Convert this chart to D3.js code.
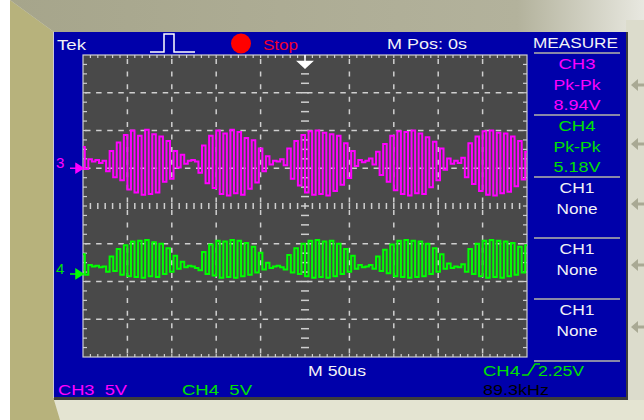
<!DOCTYPE html>
<html><head><meta charset="utf-8">
<script src="https://cdn.jsdelivr.net/npm/d3@7"></script>
<style>
body{margin:0;background:#fff;}
svg{display:block}
text{font-family:"Liberation Sans",Arial,sans-serif;white-space:pre;}
</style>
</head><body>
<svg id="c" width="644" height="420"></svg>
<script>
// ---- data ----
const timeStartUs = -250;          // left edge of screen (M Pos 0s, 50us/div)
const sampleStepUs = 4;            // one displayed sample every 4 us
const ch3Volts = [2.8,-0.1,1.2,0.9,1.1,0.7,1.0,-0.4,
  2.3,-1.2,3.4,-1.6,4.4,-2.8,5.0,-3.2,4.3,-3.5,5.1,-3.4,4.5,-3.2,4.2,-1.8,3.6,-1.4,2.3,0.1,
  1.8,0.6,1.0,1.1,0.9,
  -0.6,3.0,-2.0,4.3,-2.6,5.0,-3.4,4.6,-3.6,5.1,-3.3,4.8,-3.5,4.0,-2.7,3.7,-1.9,2.6,-0.4,
  1.6,0.5,1.0,0.9,1.2,0.4,
  2.6,-1.4,3.6,-2.3,4.4,-3.2,4.9,-3.5,5.0,-3.4,4.7,-3.6,4.5,-3.0,4.3,-2.2,3.3,-1.3,2.3,
  0.3,1.1,0.8,1.0,1.3,0.5,
  2.2,-0.9,3.2,-1.8,4.3,-2.9,4.9,-3.4,4.8,-3.6,5.0,-3.3,4.6,-3.4,4.1,-2.5,3.5,-1.6,2.6,-0.2,
  1.3,0.6,1.0,0.7,1.4,
  -1.2,3.3,-2.1,4.2,-3.0,4.9,-3.5,5.0,-3.6,4.7,-3.3,4.6,-3.1,4.2,-2.4,3.6,-1.5,2.2];
const ch4Volts = [2.6,-0.1,1.2,1.0,1.1,0.9,1.0,0.3,
  2.3,0.4,3.3,-0.1,3.8,-0.3,4.3,-0.4,4.4,-0.5,4.5,-0.3,4.2,-0.4,4.0,0.0,3.4,0.3,2.4,0.7,
  1.6,0.9,1.1,1.0,0.8,
  0.5,2.9,0.0,3.9,-0.2,4.4,-0.5,4.3,-0.4,4.5,-0.5,4.4,-0.3,4.1,-0.1,3.6,0.2,2.8,0.6,
  1.5,0.8,1.0,1.1,0.9,0.6,
  2.5,0.2,3.4,0.0,4.0,-0.3,4.4,-0.5,4.5,-0.4,4.3,-0.5,4.4,-0.3,4.0,0.0,3.3,0.3,2.4,
  0.7,1.2,0.9,1.0,1.2,0.7,
  2.3,0.4,3.2,0.1,3.9,-0.3,4.4,-0.4,4.5,-0.5,4.4,-0.4,4.3,-0.3,4.0,0.0,3.4,0.3,2.6,0.7,
  1.4,0.8,1.0,0.9,1.3,
  0.3,3.3,0.0,4.0,-0.3,4.4,-0.5,4.5,-0.4,4.4,-0.5,4.3,-0.3,4.1,-0.1,3.6,0.2,3.8];
const channelNames = ["3","4"];
const channelVoltsPerDiv = [5,5];
const channelPositionDiv = [1.0,-1.8];
const timeDivTicksUs = [-250,-200,-150,-100,-50,0,50,100,150,200,250];
const vertDivTicks = [-4,-3,-2,-1,0,1,2,3,4];
const measureGroups = [["CH3","Pk-Pk","8.94V"],["CH4","Pk-Pk","5.18V"],["CH1","None"],["CH1","None"],["CH1","None"]];
const measureKinds = ["ch3","ch4","off","off","off"];
const topTexts = {brand:"Tek", state:"Stop", pos:"M Pos: 0s", menu:"MEASURE"};
const bottomTexts = {timebase:"M 50us", trig:"CH4", trigLevel:"2.25V", freq:"89.3kHz", ch3:"CH3  5V", ch4:"CH4  5V"};

// ---- layout ----
const svg = d3.select("#c");
const G = {x0:83, x1:527, y0:55, y1:357};
const x = d3.scaleLinear().domain([-250,250]).range([G.x0,G.x1]);
const yDiv = d3.scaleLinear().domain([-4,4]).range([G.y1,G.y0]);
const C3 = "#ff00ff", C4 = "#00ff00", C4t = "#00e000", W = "#f2f2f6";

// frame / bezel
const defs = svg.append("defs");
const gt = defs.append("linearGradient").attr("id","gt");
gt.append("stop").attr("offset","0").attr("stop-color","#a6a58b");
gt.append("stop").attr("offset","0.8").attr("stop-color","#b3b29c");
gt.append("stop").attr("offset","1").attr("stop-color","#e8e8e0");
svg.append("rect").attr("width",644).attr("height",420).attr("fill","#ffffff");
svg.append("rect").attr("x",10).attr("y",0).attr("width",634).attr("height",420).attr("fill","#e4e4d2");
svg.append("polygon").attr("points","10,0 54,32 54,400 60,420 10,420").attr("fill","#b7b27c");
svg.append("polygon").attr("points","10,0 644,0 644,20 626,32 54,32").attr("fill","url(#gt)");
svg.append("rect").attr("x",626).attr("y",20).attr("width",18).attr("height",380).attr("fill","#dcdccc");
// side buttons
[85,144,204,265,327].forEach(cy=>{
  svg.append("path").attr("d",`M631,${cy} L638,${cy-6} L638,${cy+6} Z M637,${cy-1.5} H644 V${cy+1.5} H637 Z`).attr("fill","#a9a994");
});
// screen
svg.append("rect").attr("x",54).attr("y",32).attr("width",572).attr("height",365).attr("fill","#0000aa");
svg.append("line").attr("x1",53.5).attr("x2",53.5).attr("y1",32).attr("y2",398).attr("stroke","#c8c8d8");
svg.append("rect").attr("x",54).attr("y",397).attr("width",574).attr("height",3).attr("fill","#3c3c3c");
svg.append("rect").attr("x",626).attr("y",32).attr("width",2).attr("height",368).attr("fill","#3c3c3c");

// graticule
const grid = svg.append("g");
grid.append("rect").attr("x",G.x0).attr("y",G.y0).attr("width",G.x1-G.x0).attr("height",G.y1-G.y0)
  .attr("fill","#494949");
const gl = "#cfcfcf";
const divW = x(-200)-x(-250), divH = yDiv(0)-yDiv(1);
timeDivTicksUs.filter(t=>t!==0 && Math.abs(t)!==250).forEach(t=>{
  grid.append("line").attr("x1",x(t)).attr("x2",x(t)).attr("y1",G.y0+4).attr("y2",G.y1)
    .attr("stroke",gl).attr("stroke-width",1.5).attr("stroke-dasharray",`5,${divH/3-5}`);
});
vertDivTicks.filter(d=>d!==0 && Math.abs(d)!==4).forEach(d=>{
  grid.append("line").attr("x1",G.x0+2).attr("x2",G.x1).attr("y1",yDiv(d)).attr("y2",yDiv(d))
    .attr("stroke",gl).attr("stroke-width",1.5).attr("stroke-dasharray",`5.5,${divW/4-5.5}`);
});
// minor ticks on edges and center axes
const nH = 60, nV = 32;
for(let i=1;i<nH;i++){
  const xx = G.x0 + i*(G.x1-G.x0)/nH;
  grid.append("line").attr("x1",xx).attr("x2",xx).attr("y1",G.y0).attr("y2",G.y0+3).attr("stroke",gl).attr("stroke-width",1.2);
  grid.append("line").attr("x1",xx).attr("x2",xx).attr("y1",G.y1-3).attr("y2",G.y1).attr("stroke",gl).attr("stroke-width",1.2);
  grid.append("line").attr("x1",xx).attr("x2",xx).attr("y1",yDiv(0)-3).attr("y2",yDiv(0)+3).attr("stroke",gl).attr("stroke-width",1.5);
}
for(let i=1;i<nV;i++){
  const yy = G.y0 + i*(G.y1-G.y0)/nV;
  grid.append("line").attr("x1",G.x0).attr("x2",G.x0+4).attr("y1",yy).attr("y2",yy).attr("stroke",gl).attr("stroke-width",1.2);
  grid.append("line").attr("x1",G.x1-4).attr("x2",G.x1).attr("y1",yy).attr("y2",yy).attr("stroke",gl).attr("stroke-width",1.2);
  if(yy>G.y0+12) grid.append("line").attr("x1",x(0)-4).attr("x2",x(0)+4).attr("y1",yy).attr("y2",yy).attr("stroke",gl).attr("stroke-width",1.5);
}
grid.append("rect").attr("x",G.x0).attr("y",G.y0).attr("width",G.x1-G.x0).attr("height",G.y1-G.y0)
  .attr("fill","none").attr("stroke",gl).attr("stroke-width",1.2);

// traces
defs.append("clipPath").attr("id","clipG").append("rect").attr("x",G.x0).attr("y",G.y0).attr("width",G.x1-G.x0).attr("height",G.y1-G.y0);
const traces = [ch3Volts, ch4Volts];
const colors = [C3, C4];
traces.forEach((vals,ci)=>{
  const line = d3.line()
    .x((v,i)=>x(timeStartUs + i*sampleStepUs))
    .y(v=>yDiv(channelPositionDiv[ci] + v/channelVoltsPerDiv[ci]))
    .curve(d3.curveStep);
  svg.append("path").attr("d",line(vals)).attr("clip-path","url(#clipG)")
    .attr("fill","none").attr("stroke",colors[ci]).attr("stroke-width",2);
  // ground markers
  const gy = yDiv(channelPositionDiv[ci]);
  svg.append("text").attr("x",56).attr("y",gy).attr("font-size",15).attr("fill",ci?C4t:C3).text(channelNames[ci]);
  svg.append("path").attr("d",`M70,${gy} H77 M76,${gy-4.5} L83,${gy} L76,${gy+4.5} Z`)
    .attr("stroke",colors[ci]).attr("stroke-width",1.5).attr("fill",colors[ci]);
});
// trigger position marker
svg.append("path").attr("d",`M${x(0)},55 V62 M${x(0)-7},61.5 H${x(0)+7} L${x(0)},68 Z`)
  .attr("stroke","#fff").attr("stroke-width",1.5).attr("fill","#fff");

// helper for stretched text
function T(str,x0,yb,w,color,size,weight){
  return svg.append("text").attr("x",x0).attr("y",yb).attr("font-size",size||15)
    .attr("font-weight",weight||"normal").attr("fill",color)
    .attr("textLength",w).attr("lengthAdjust","spacingAndGlyphs").text(str);
}
// header
T(topTexts.brand,57,50,29,W);
svg.append("path").attr("d","M150,52 H164 V34 H174 V52 H195").attr("fill","none").attr("stroke","#fff").attr("stroke-width",1.5);
svg.append("circle").attr("cx",241).attr("cy",43.5).attr("r",10).attr("fill","#ff0000");
T(topTexts.state,263,50,35,"#ee0030");
T(topTexts.pos,387,49,80,W);
T(topTexts.menu,533,48,85,W,15);

// measure menu
const sepY = [53,115,177,238,299,361];
sepY.forEach(sy=>svg.append("rect").attr("x",534).attr("y",sy-1).attr("width",86).attr("height",2).attr("fill","#8888a8"));
const lineColor = {ch3:C3, ch4:C4t, off:W};
const widths = {"CH3":37,"CH4":37,"CH1":35,"Pk-Pk":47,"8.94V":47,"5.18V":47,"None":41};
measureGroups.forEach((grp,gi)=>{
  const base = sepY[gi];
  grp.forEach((s,li)=>{
    const w = widths[s];
    T(s,577-w/2,base+16+li*20.5,w,lineColor[measureKinds[gi]]);
  });
});

// footer
T(bottomTexts.timebase,308,376,58,W);
T(bottomTexts.trig,483,376,37,C4t);
svg.append("path").attr("d","M522,375 H528 L535,364 H540").attr("fill","none").attr("stroke",C4t).attr("stroke-width",1.5);
T(bottomTexts.trigLevel,538,376,46,C4t);
T(bottomTexts.freq,483,395,66,"#000000");
T(bottomTexts.ch3,58,395,69,C3);
T(bottomTexts.ch4,182,395,70,C4t);
</script>
</body></html>
